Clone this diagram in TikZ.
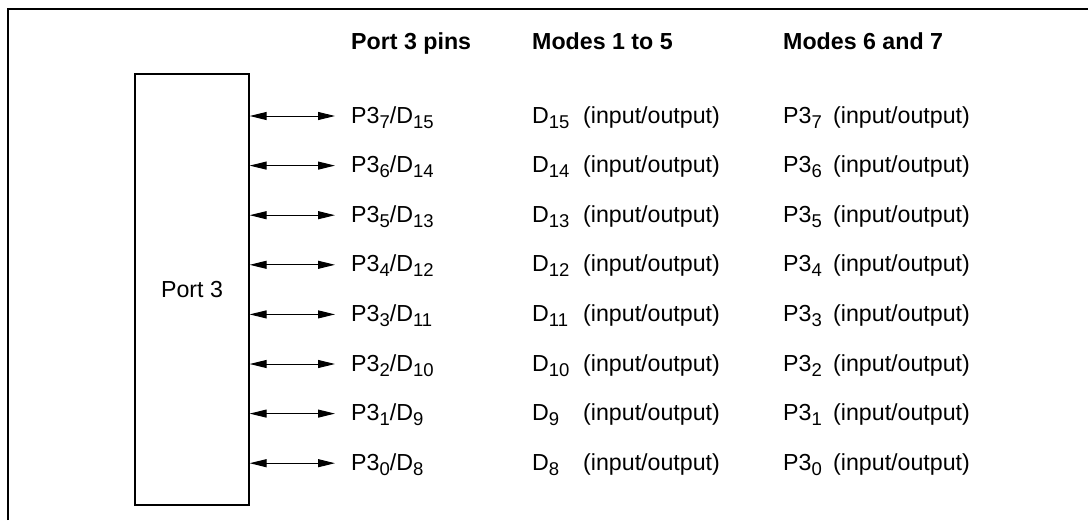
\documentclass[tikz,border=0pt]{standalone}
\usepackage{fontspec}
\setmainfont{Liberation Sans}
\usetikzlibrary{arrows.meta}
\newcommand{\sbx}[1]{\raisebox{-5pt}{\fontsize{18.5}{18.5}\selectfont #1}}
\begin{document}
\begin{tikzpicture}[x=1pt,y=-1pt,
  font=\fontsize{23.2}{27}\selectfont,
  lbl/.style={anchor=base west, inner sep=0pt},
  hdr/.style={lbl, font=\fontsize{23.2}{27}\selectfont\bfseries},
  io/.style={line width=1pt, {Triangle[length=17pt,width=8pt]}-{Triangle[length=17pt,width=8pt]}},
  frame/.style={line width=1.3pt}]
\useasboundingbox (0,0) rectangle (1088,520);
\draw[frame] (8,520) -- (8,9) -- (1088,9);
\node[draw, line width=1.3pt, minimum width=114pt, minimum height=431pt, inner sep=0pt] (port) at (192,289.5) {Port 3};
\node[hdr] (h1) at (351,49) {Port 3 pins};
\node[hdr] (h2) at (532,49) {Modes 1 to 5};
\node[hdr] (h3) at (783,49) {Modes 6 and 7};
\foreach \k in {0,...,7}{
  \pgfmathtruncatemacro\p{7-\k}
  \pgfmathtruncatemacro\d{15-\k}
  \pgfmathsetmacro\y{116+49.6*\k}
  \pgfmathsetmacro\yb{\y+7}
  \coordinate (e\k) at (335,\y);
  \draw[io] (port.east |- e\k) -- (e\k);
  \node[lbl] (pin\k) at (351,\yb) {P3\sbx{\p}/D\sbx{\d}};
  \node[lbl] (d\k) at (532,\yb) {D\sbx{\d}};
  \node[lbl] (di\k) at (583,\yb) {(input/output)};
  \node[lbl] (q\k) at (783,\yb) {P3\sbx{\p}};
  \node[lbl] (qi\k) at (833,\yb) {(input/output)};
}
\end{tikzpicture}
\end{document}
